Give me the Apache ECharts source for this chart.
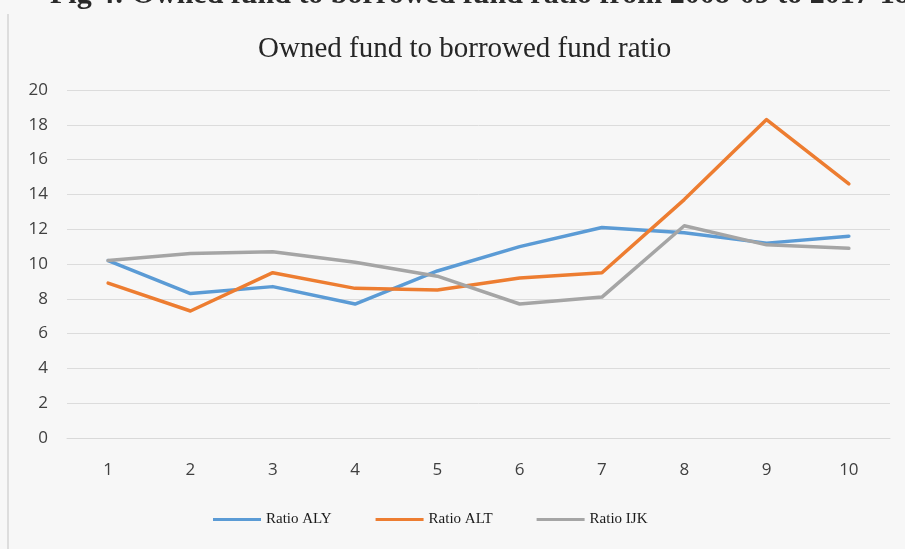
<!DOCTYPE html>
<html>
<head>
<meta charset="utf-8">
<script src="https://cdn.jsdelivr.net/npm/echarts@6/dist/echarts.min.js"></script>
<style>
  html, body { margin: 0; padding: 0; background: #f7f7f7; }
  #chart { width: 905px; height: 549px; }
</style>
</head>
<body>
<div id="chart"></div>
<script>
// Owned fund to borrowed fund ratio, years 1..10
const categories = ['1', '2', '3', '4', '5', '6', '7', '8', '9', '10'];
const ratioALY = [10.2, 8.3, 8.7, 7.7, 9.6, 11.0, 12.1, 11.8, 11.2, 11.6];
const ratioALT = [8.9, 7.3, 9.5, 8.6, 8.5, 9.2, 9.5, 13.7, 18.3, 14.6];
const ratioIJK = [10.2, 10.6, 10.7, 10.1, 9.3, 7.7, 8.1, 12.2, 11.1, 10.9];
const seriesNames = ['Ratio ALY', 'Ratio ALT', 'Ratio IJK'];
const seriesColors = ['#5b9bd5', '#ed7d31', '#a5a5a5'];

const chart = echarts.init(document.getElementById('chart'));

const lineSeries = [ratioALY, ratioALT, ratioIJK].map((values, i) => ({
  name: seriesNames[i],
  type: 'line',
  data: values,
  symbol: 'none',
  smooth: false,
  lineStyle: { width: 3.5, color: seriesColors[i], cap: 'round', join: 'round' },
  itemStyle: { color: seriesColors[i] },
  emphasis: { disabled: true }
}));

chart.setOption({
  backgroundColor: '#f7f7f7',
  animation: false,
  title: {
    text: 'Owned fund to borrowed fund ratio',
    left: 253,
    top: 30,
    textStyle: {
      fontFamily: 'Liberation Serif',
      fontSize: 29,
      fontWeight: 'normal',
      color: '#262626'
    }
  },
  graphic: [
    {
      // figure caption running off the top edge
      type: 'text',
      left: 50,
      top: -20,
      style: {
        text: 'Fig 4: Owned fund to borrowed fund ratio from 2008-09 to 2017-18',
        font: 'bold 30px "Liberation Serif"',
        fill: '#2a2a2a'
      }
    },
    {
      // chart frame, left edge
      type: 'line',
      shape: { x1: 8, y1: 14, x2: 8, y2: 549 },
      style: { stroke: '#d4d4d4', lineWidth: 1.5 }
    }
  ],
  legend: {
    data: seriesNames,
    left: 208,
    top: 507,
    icon: 'rect',
    itemWidth: 48,
    itemHeight: 3,
    itemGap: 44,
    textStyle: {
      fontFamily: 'Liberation Serif',
      fontSize: 15,
      color: '#1a1a1a'
    }
  },
  grid: {
    left: 67,
    right: 15,
    top: 90,
    bottom: 111,
    containLabel: false
  },
  xAxis: {
    type: 'category',
    data: categories,
    boundaryGap: true,
    axisLine: { show: true, lineStyle: { color: '#d9d9d9', width: 1 } },
    axisTick: { show: false },
    axisLabel: {
      margin: 24,
      fontFamily: 'Open Sans',
      fontSize: 17,
      color: '#404040'
    },
    splitLine: { show: false }
  },
  yAxis: {
    type: 'value',
    min: 0,
    max: 20,
    interval: 2,
    axisLine: { show: false },
    axisTick: { show: false },
    axisLabel: {
      margin: 19,
      fontFamily: 'Open Sans',
      fontSize: 17,
      color: '#404040'
    },
    splitLine: { lineStyle: { color: '#dcdcdc', width: 1 } }
  },
  series: lineSeries
});
</script>
</body>
</html>
